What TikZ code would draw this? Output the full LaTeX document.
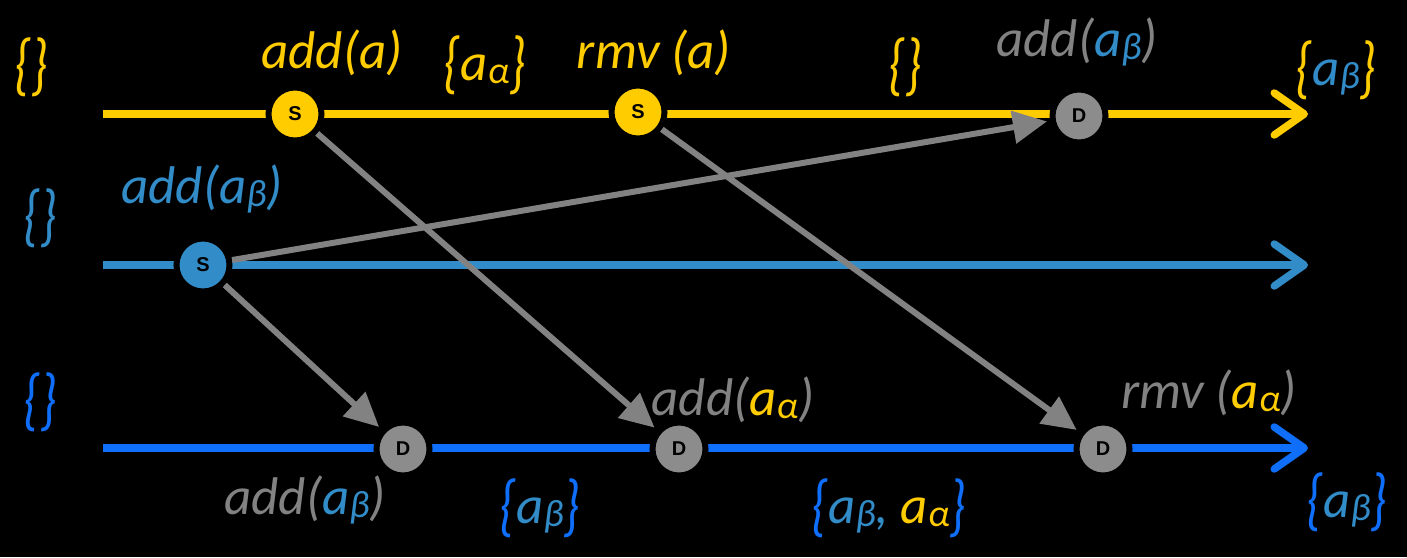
\documentclass[tikz,border=0pt]{standalone}
\usepackage{fontspec}
\setmainfont{Carlito}
\newfontfamily\evfont{Liberation Sans}
\usetikzlibrary{arrows.meta}
\definecolor{yel}{RGB}{255,204,0}
\definecolor{sbl}{RGB}{50,140,200}
\definecolor{bbl}{RGB}{15,110,250}
\definecolor{gry}{RGB}{130,130,130}
\definecolor{dgry}{RGB}{140,140,140}
\newcommand\gsub[1]{\raisebox{-0.06em}{\scalebox{0.72}{#1}}}
\newcommand\myab{a\gsub{β}}
\newcommand\myaa{a\gsub{α}}
\newcommand\lb{\raisebox{-0.1em}{\scalebox{1}[1.3]{\{}}}
\newcommand\rb{\raisebox{-0.1em}{\scalebox{1}[1.3]{\}}}}
\begin{document}
\begin{tikzpicture}[x=1pt,y=-1pt,
  lab/.style={font=\itshape\fontsize{53}{53}\selectfont, anchor=base, inner sep=0pt},
  ev/.style={circle, minimum size=53pt, inner sep=0pt, line width=6pt, draw=black, text=black, font=\evfont\bfseries\fontsize{20}{20}\selectfont},
  tl/.style={line width=7.5pt, -{Straight Barb[length=30pt,width=42pt,round]}},
  msg/.style={draw=gry, line width=6pt, -{Triangle[length=34pt,width=32pt]}, shorten >=3pt}]
\fill[black] (0,0) rectangle (1407,557);
% timelines
\coordinate (y0) at (103,114); \coordinate (y1) at (1308,114);
\coordinate (b0) at (103,265); \coordinate (b1) at (1308,265);
\coordinate (c0) at (103,448); \coordinate (c1) at (1308,448);
\draw[tl, yel] (y0) -- (y1);
\draw[tl, sbl] (b0) -- (b1);
\draw[tl, bbl] (c0) -- (c1);
% events
\node[ev, fill=yel] (s1) at (295,114) {S};
\node[ev, fill=yel] (s2) at (638,112) {S};
\node[ev, fill=dgry] (dy) at (1079,116) {D};
\node[ev, fill=sbl] (sb) at (203,265) {S};
\node[ev, fill=dgry] (d1) at (403,449) {D};
\node[ev, fill=dgry] (d2) at (679,449) {D};
\node[ev, fill=dgry] (d3) at (1103,449) {D};
% messages
\draw[msg] (s1) -- (d2);
\draw[msg] (s2) -- (d3);
\draw[msg] (sb) -- (d1);
\draw[msg] (sb) -- (dy);
% labels
\node[lab, text=yel] (l1) at (31,82) {\lb\rb};
\node[lab, text=sbl] (l2) at (40,233) {\lb\rb};
\node[lab, text=bbl] (l3) at (40,417) {\lb\rb};
\node[lab, text=yel] (t1) at (332,68) {add(a)};
\node[lab, text=yel] (t2) at (485,80) {\lb\myaa\rb};
\node[lab, text=yel] (t3) at (654,68) {rmv (a)};
\node[lab, text=yel] (t4) at (905,82) {\lb\rb};
\node[lab, text=gry] (t5) at (1077,56) {add(\textcolor{sbl}{\myab})};
\node[lab, text=yel] (t6) at (1336,85) {\lb\textcolor{sbl}{\myab}\rb};
\node[lab, text=sbl] (t7) at (202,203) {add(\myab)};
\node[lab, text=gry] (t8) at (305,514) {add(\textcolor{sbl}{\myab})};
\node[lab, text=bbl] (t9) at (540,523) {\lb\textcolor{sbl}{\myab}\rb};
\node[lab, text=gry] (t10) at (733,415) {add(\textcolor{yel}{\myaa})};
\node[lab, text=bbl] (t11) at (889,523) {\lb\textcolor{sbl}{\myab,} \textcolor{yel}{\myaa}\rb};
\node[lab, text=gry] (t12) at (1209,408) {rmv (\textcolor{yel}{\myaa})};
\node[lab, text=bbl] (t13) at (1347,517) {\lb\textcolor{sbl}{\myab}\rb};
\end{tikzpicture}
\end{document}
